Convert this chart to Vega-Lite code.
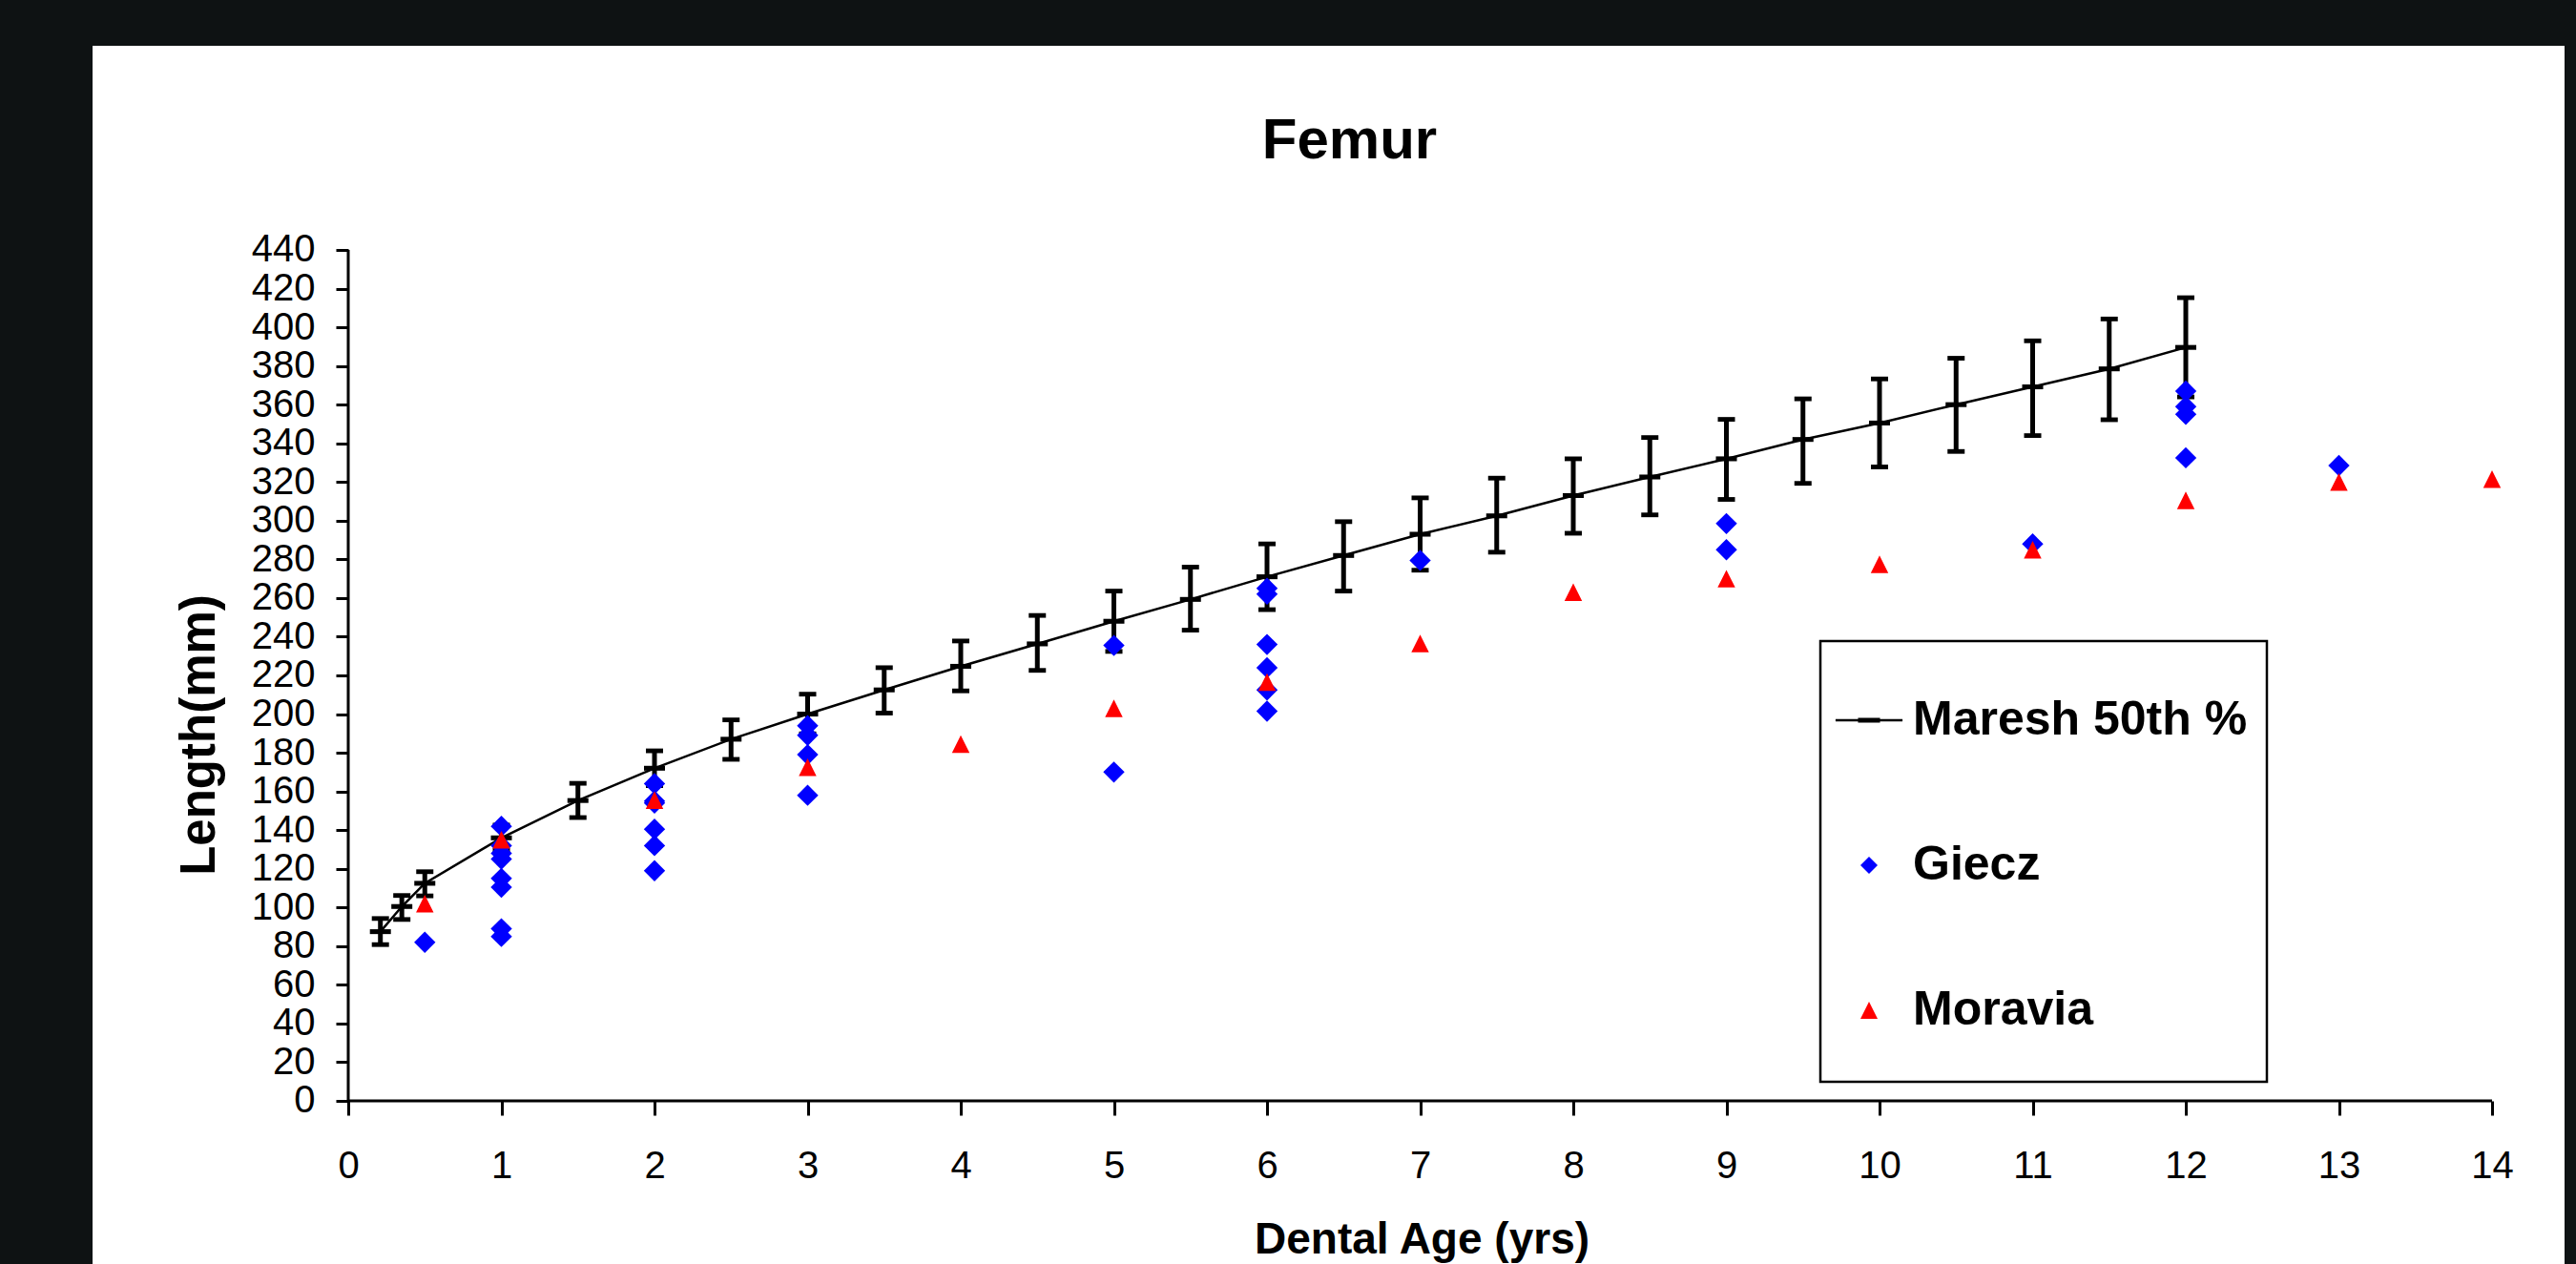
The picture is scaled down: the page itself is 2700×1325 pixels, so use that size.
{
  "$schema": "https://vega.github.io/schema/vega-lite/v6.json",
  "width": 2591,
  "height": 1277,
  "autosize": {"type": "none"},
  "padding": {"left": 97, "top": 48, "right": 12, "bottom": 0},
  "background": "#0e1213",
  "config": {
    "view": {"fill": "#ffffff", "stroke": null},
    "font": "Liberation Sans",
    "legend": {"strokeWidth": 2.5}
  },
  "title": {
    "text": "Femur",
    "font": "Liberation Sans",
    "fontSize": 60,
    "fontWeight": "bold",
    "color": "#000000",
    "frame": "group",
    "anchor": "middle",
    "baseline": "alphabetic",
    "offset": -178,
    "dx": 22
  },
  "datasets": {
    "maresh": [
      {"age": 0.21, "mean": 87.5, "lo": 80.8, "hi": 94.3},
      {"age": 0.35, "mean": 100.5, "lo": 93.8, "hi": 106.2},
      {"age": 0.5, "mean": 112.5, "lo": 106, "hi": 118.5},
      {"age": 1, "mean": 136, "lo": 129.5, "hi": 142.6},
      {"age": 1.5, "mean": 155.3, "lo": 146.5, "hi": 164.2},
      {"age": 2, "mean": 172, "lo": 163, "hi": 181},
      {"age": 2.5, "mean": 187, "lo": 176.6, "hi": 197},
      {"age": 3, "mean": 200, "lo": 189.8, "hi": 210.3},
      {"age": 3.5, "mean": 212.5, "lo": 200.5, "hi": 224},
      {"age": 4, "mean": 224.7, "lo": 212, "hi": 237.8},
      {"age": 4.5, "mean": 236.3, "lo": 222.6, "hi": 251},
      {"age": 5, "mean": 248, "lo": 232.4, "hi": 263.6},
      {"age": 5.5, "mean": 259.3, "lo": 243.4, "hi": 276},
      {"age": 6, "mean": 271, "lo": 254, "hi": 288},
      {"age": 6.5, "mean": 282, "lo": 263.6, "hi": 299.5},
      {"age": 7, "mean": 293, "lo": 274.4, "hi": 311.8},
      {"age": 7.5, "mean": 302.5, "lo": 283.7, "hi": 322},
      {"age": 8, "mean": 313, "lo": 293.5, "hi": 332},
      {"age": 8.5, "mean": 322.6, "lo": 303, "hi": 343},
      {"age": 9, "mean": 332, "lo": 311, "hi": 352.4},
      {"age": 9.5, "mean": 342, "lo": 319.3, "hi": 363},
      {"age": 10, "mean": 350.5, "lo": 327.8, "hi": 373.3},
      {"age": 10.5, "mean": 360, "lo": 335.8, "hi": 384},
      {"age": 11, "mean": 369.2, "lo": 344, "hi": 393},
      {"age": 11.5, "mean": 378.5, "lo": 352.2, "hi": 404.3},
      {"age": 12, "mean": 389.6, "lo": 364, "hi": 415.3}
    ],
    "giecz": [
      {"age": 0.5, "series": "Giecz", "length": 82},
      {"age": 1, "series": "Giecz", "length": 142},
      {"age": 1, "series": "Giecz", "length": 132},
      {"age": 1, "series": "Giecz", "length": 128},
      {"age": 1, "series": "Giecz", "length": 125},
      {"age": 1, "series": "Giecz", "length": 115},
      {"age": 1, "series": "Giecz", "length": 110.5},
      {"age": 1, "series": "Giecz", "length": 89},
      {"age": 1, "series": "Giecz", "length": 85},
      {"age": 2, "series": "Giecz", "length": 164},
      {"age": 2, "series": "Giecz", "length": 155},
      {"age": 2, "series": "Giecz", "length": 154},
      {"age": 2, "series": "Giecz", "length": 140.5},
      {"age": 2, "series": "Giecz", "length": 132},
      {"age": 2, "series": "Giecz", "length": 119},
      {"age": 3, "series": "Giecz", "length": 194},
      {"age": 3, "series": "Giecz", "length": 189},
      {"age": 3, "series": "Giecz", "length": 179},
      {"age": 3, "series": "Giecz", "length": 158},
      {"age": 5, "series": "Giecz", "length": 235.5},
      {"age": 5, "series": "Giecz", "length": 170},
      {"age": 6, "series": "Giecz", "length": 265},
      {"age": 6, "series": "Giecz", "length": 262},
      {"age": 6, "series": "Giecz", "length": 236},
      {"age": 6, "series": "Giecz", "length": 224},
      {"age": 6, "series": "Giecz", "length": 212.5},
      {"age": 6, "series": "Giecz", "length": 201.5},
      {"age": 7, "series": "Giecz", "length": 279.5},
      {"age": 9, "series": "Giecz", "length": 298.5},
      {"age": 9, "series": "Giecz", "length": 285},
      {"age": 11, "series": "Giecz", "length": 288},
      {"age": 12, "series": "Giecz", "length": 367},
      {"age": 12, "series": "Giecz", "length": 359},
      {"age": 12, "series": "Giecz", "length": 355},
      {"age": 12, "series": "Giecz", "length": 332.5},
      {"age": 13, "series": "Giecz", "length": 328.5}
    ],
    "moravia": [
      {"age": 0.5, "series": "Moravia", "length": 102},
      {"age": 1, "series": "Moravia", "length": 135},
      {"age": 2, "series": "Moravia", "length": 155.5},
      {"age": 3, "series": "Moravia", "length": 172.5},
      {"age": 4, "series": "Moravia", "length": 184.5},
      {"age": 5, "series": "Moravia", "length": 203},
      {"age": 6, "series": "Moravia", "length": 216.5},
      {"age": 7, "series": "Moravia", "length": 236.5},
      {"age": 8, "series": "Moravia", "length": 263},
      {"age": 9, "series": "Moravia", "length": 270},
      {"age": 10, "series": "Moravia", "length": 277.5},
      {"age": 11, "series": "Moravia", "length": 285},
      {"age": 12, "series": "Moravia", "length": 310.5},
      {"age": 13, "series": "Moravia", "length": 320},
      {"age": 14, "series": "Moravia", "length": 321.5}
    ],
    "one": [{}]
  },
  "encoding": {
    "x": {
      "type": "quantitative",
      "scale": {"domain": [-1.6698, 14.4735], "nice": false, "zero": false},
      "axis": {
        "orient": "bottom", "offset": -171, "zindex": 1, "grid": false, "domain": false,
        "values": [0, 1, 2, 3, 4, 5, 6, 7, 8, 9, 10, 11, 12, 13, 14],
        "title": "Dental Age (yrs)",
        "titleFont": "Liberation Sans", "titleFontSize": 46, "titleFontWeight": "bold", "titleColor": "#000000",
        "titleX": 1393, "titleY": 159, "titleBaseline": "alphabetic", "titleAlign": "center",
        "labelFont": "Liberation Sans", "labelFontSize": 40, "labelColor": "#000000", "labelPadding": 33,
        "labelFlush": false, "labelOverlap": false,
        "tickSize": 15, "tickWidth": 3, "tickColor": "#000000"
      }
    },
    "y": {
      "type": "quantitative",
      "scale": {"domain": [-84.35, 545.56], "nice": false, "zero": false},
      "axis": {
        "orient": "left", "offset": -268, "zindex": 1, "grid": false, "domain": false,
        "values": [0, 20, 40, 60, 80, 100, 120, 140, 160, 180, 200, 220, 240, 260, 280, 300, 320, 340, 360, 380, 400, 420, 440],
        "title": "Length(mm)",
        "titleFont": "Liberation Sans", "titleFontSize": 51, "titleFontWeight": "bold", "titleColor": "#000000",
        "titleX": -141, "titleY": 722, "titleAngle": 270, "titleBaseline": "alphabetic", "titleAlign": "center",
        "labelFont": "Liberation Sans", "labelFontSize": 40, "labelColor": "#000000", "labelPadding": 22,
        "labelFlush": false, "labelOverlap": false,
        "tickSize": 13, "tickWidth": 3, "tickColor": "#000000"
      }
    }
  },
  "layer": [
    {
      "data": {"name": "maresh"},
      "mark": {"type": "line", "color": "#000000", "strokeWidth": 2.5},
      "encoding": {
        "x": {"field": "age", "type": "quantitative"},
        "y": {"field": "mean", "type": "quantitative"}
      }
    },
    {
      "data": {"name": "one"},
      "mark": {"type": "rule", "color": "#000000", "strokeWidth": 3},
      "encoding": {
        "x": {"datum": 0, "type": "quantitative"},
        "y": {"datum": 0, "type": "quantitative"},
        "y2": {"datum": 440}
      }
    },
    {
      "data": {"name": "one"},
      "mark": {"type": "rule", "color": "#000000", "strokeWidth": 3},
      "encoding": {
        "x": {"datum": 0, "type": "quantitative"},
        "x2": {"datum": 14},
        "y": {"datum": 0, "type": "quantitative"}
      }
    },
    {
      "data": {"name": "maresh"},
      "mark": {"type": "rule", "color": "#000000", "strokeWidth": 5},
      "encoding": {
        "x": {"field": "age", "type": "quantitative"},
        "y": {"field": "lo", "type": "quantitative"},
        "y2": {"field": "hi"}
      }
    },
    {
      "data": {"name": "maresh"},
      "mark": {"type": "point", "shape": "M-1,-0.27H1V0.27H-1Z", "filled": true, "color": "#000000", "opacity": 1, "size": 324, "strokeWidth": 0},
      "encoding": {
        "x": {"field": "age", "type": "quantitative"},
        "y": {"field": "lo", "type": "quantitative"}
      }
    },
    {
      "data": {"name": "maresh"},
      "mark": {"type": "point", "shape": "M-1,-0.27H1V0.27H-1Z", "filled": true, "color": "#000000", "opacity": 1, "size": 324, "strokeWidth": 0},
      "encoding": {
        "x": {"field": "age", "type": "quantitative"},
        "y": {"field": "hi", "type": "quantitative"}
      }
    },
    {
      "data": {"name": "maresh"},
      "mark": {"type": "point", "shape": "M-1,-0.23H1V0.23H-1Z", "filled": true, "color": "#000000", "opacity": 1, "size": 484, "strokeWidth": 0},
      "encoding": {
        "x": {"field": "age", "type": "quantitative"},
        "y": {"field": "mean", "type": "quantitative"}
      }
    },
    {
      "data": {"name": "giecz"},
      "mark": {"type": "point", "filled": true, "opacity": 1, "size": 500, "strokeWidth": 0},
      "encoding": {
        "x": {"field": "age", "type": "quantitative"},
        "y": {"field": "length", "type": "quantitative"},
        "color": {
          "field": "series", "type": "nominal",
          "scale": {"domain": ["Maresh 50th %", "Giecz", "Moravia"], "range": ["#000000", "#0000ff", "#ff0000"]},
          "legend": {
            "title": " ", "titleFontSize": 10, "titlePadding": 28,
            "orient": "none", "legendX": 1811, "legendY": 624,
            "padding": 20, "strokeColor": "#000000", "fillColor": "#ffffff",
            "symbolSize": 324, "symbolOffset": 6, "labelOffset": 21, "rowPadding": 102,
            "symbolStrokeWidth": 0, "symbolOpacity": 1,
            "labelFont": "Liberation Sans", "labelFontSize": 50, "labelFontWeight": "bold", "labelColor": "#000000", "labelLimit": 0
          }
        },
        "shape": {
          "field": "series", "type": "nominal",
          "scale": {"domain": ["Maresh 50th %", "Giecz", "Moravia"], "range": ["M-3.9,-0.14H3.9V0.14H-3.9ZM-1.28,-0.28H1.28V0.28H-1.28Z", "M0,-1L1,0L0,1L-1,0Z", "M0,-1L1,1H-1ZM0,6.1L0,6.1"]},
          "legend": {
            "title": " ", "titleFontSize": 10, "titlePadding": 28,
            "orient": "none", "legendX": 1811, "legendY": 624,
            "padding": 20, "strokeColor": "#000000", "fillColor": "#ffffff",
            "symbolSize": 324, "symbolOffset": 6, "labelOffset": 21, "rowPadding": 102,
            "symbolStrokeWidth": 0, "symbolOpacity": 1,
            "labelFont": "Liberation Sans", "labelFontSize": 50, "labelFontWeight": "bold", "labelColor": "#000000", "labelLimit": 0
          }
        }
      }
    },
    {
      "data": {"name": "moravia"},
      "mark": {"type": "point", "filled": true, "opacity": 1, "size": 340, "strokeWidth": 0},
      "encoding": {
        "x": {"field": "age", "type": "quantitative"},
        "y": {"field": "length", "type": "quantitative"},
        "color": {"field": "series", "type": "nominal", "scale": {"domain": ["Maresh 50th %", "Giecz", "Moravia"], "range": ["#000000", "#0000ff", "#ff0000"]}},
        "shape": {"field": "series", "type": "nominal", "scale": {"domain": ["Maresh 50th %", "Giecz", "Moravia"], "range": ["M-3.9,-0.14H3.9V0.14H-3.9ZM-1.28,-0.28H1.28V0.28H-1.28Z", "M0,-1L1,0L0,1L-1,0Z", "M0,-1L1,1H-1ZM0,6.1L0,6.1"]}}
      }
    }
  ]
}
